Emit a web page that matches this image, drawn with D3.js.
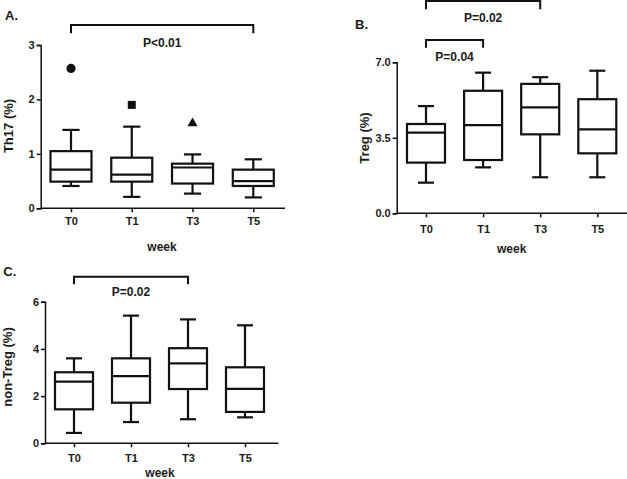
<!DOCTYPE html>
<html>
<head>
<meta charset="utf-8">
<script src="https://cdn.jsdelivr.net/npm/d3@7"></script>
<style>
  html, body { margin: 0; padding: 0; background: #fff; }
  svg { display: block; }
  text { font-family: "Liberation Sans", Arial, Helvetica, sans-serif; font-weight: bold; fill: #1a1a1a; }
</style>
</head>
<body>
<svg id="chart" width="627" height="479"></svg>
<script>
// ---------- data ----------
const categories = ["T0", "T1", "T3", "T5"];
const xTitle = "week";

// Panel A: Th17 (%)
const th17Low    = [0.41, 0.21, 0.27, 0.20];
const th17Q1     = [0.49, 0.49, 0.455, 0.41];
const th17Median = [0.71, 0.62, 0.75, 0.50];
const th17Q3     = [1.05, 0.93, 0.82, 0.71];
const th17High   = [1.44, 1.50, 0.99, 0.90];
const th17Outliers = [2.57, 1.90, 1.58, null];
const th17OutlierShapes = ["circle", "square", "triangle", null];
const th17Ticks = [0, 1, 2, 3];

// Panel B: Treg (%)
const tregLow    = [1.42, 2.13, 1.67, 1.67];
const tregQ1     = [2.35, 2.47, 3.66, 2.78];
const tregMedian = [3.74, 4.09, 4.91, 3.89];
const tregQ3     = [4.14, 5.68, 6.00, 5.29];
const tregHigh   = [4.97, 6.52, 6.31, 6.61];
const tregTicks = [0, 3.5, 7];

// Panel C: non-Treg (%)
const nonTregLow    = [0.44, 0.90, 1.02, 1.10];
const nonTregQ1     = [1.44, 1.72, 2.30, 1.33];
const nonTregMedian = [2.61, 2.85, 3.39, 2.31];
const nonTregQ3     = [3.01, 3.60, 4.03, 3.22];
const nonTregHigh   = [3.60, 5.41, 5.25, 5.00];
const nonTregTicks = [0, 2, 4, 6];

// Significance brackets: [from, to, label]
const th17Sig = [["T0", "T5", "P<0.01"]];
const tregSig = [["T0", "T3", "P=0.02"], ["T0", "T1", "P=0.04"]];
const nonTregSig = [["T0", "T3", "P=0.02"]];

// ---------- drawing ----------
const svg = d3.select("#chart");

function drawPanel(cfg) {
  const g = svg.append("g");
  const y = d3.scaleLinear().domain(cfg.yDomain).range([cfg.y0, cfg.yTop]);
  const x = d3.scalePoint().domain(categories).range(cfg.xRange);

  // y axis
  const yAxis = d3.axisLeft(y).tickValues(cfg.ticks).tickFormat(cfg.fmt).tickSize(4).tickPadding(2);
  const ya = g.append("g").attr("transform", `translate(${cfg.axisX},0)`).call(yAxis);
  ya.select(".domain").attr("stroke", "#111").attr("stroke-width", 1.5);
  ya.selectAll(".tick line").attr("stroke", "#111").attr("stroke-width", 1.5);
  ya.selectAll(".tick text").style("font-size", "11px").style("font-family", "Liberation Sans, Arial, sans-serif").style("font-weight", "bold").attr("fill", "#1a1a1a");

  // x axis
  g.append("line")
    .attr("x1", cfg.axisX).attr("x2", cfg.axisEnd)
    .attr("y1", cfg.y0).attr("y2", cfg.y0)
    .attr("stroke", "#111").attr("stroke-width", 1.5);
  const xa = g.append("g").attr("transform", `translate(0,${cfg.y0})`)
    .call(d3.axisBottom(x).tickSize(4).tickPadding(4));
  xa.select(".domain").remove();
  xa.selectAll(".tick line").attr("stroke", "#111").attr("stroke-width", 1.5);
  xa.selectAll(".tick text").style("font-size", "11px").style("font-family", "Liberation Sans, Arial, sans-serif").style("font-weight", "bold").attr("fill", "#1a1a1a").attr("dy", cfg.xLabelDy);

  // boxes
  const rows = categories.map((c, i) => ({
    c, low: cfg.low[i], q1: cfg.q1[i], med: cfg.med[i], q3: cfg.q3[i], high: cfg.high[i]
  }));
  const bw = cfg.boxW, cw = cfg.boxW * 0.42;
  const bg = g.selectAll("g.box").data(rows).enter().append("g")
    .attr("stroke", "#111").attr("stroke-width", 2.2).attr("fill", "none");
  bg.append("line").attr("x1", d => x(d.c)).attr("x2", d => x(d.c))
    .attr("y1", d => y(d.low)).attr("y2", d => y(d.q1));
  bg.append("line").attr("x1", d => x(d.c)).attr("x2", d => x(d.c))
    .attr("y1", d => y(d.q3)).attr("y2", d => y(d.high));
  bg.append("line").attr("x1", d => x(d.c) - cw / 2).attr("x2", d => x(d.c) + cw / 2)
    .attr("y1", d => y(d.low)).attr("y2", d => y(d.low));
  bg.append("line").attr("x1", d => x(d.c) - cw / 2).attr("x2", d => x(d.c) + cw / 2)
    .attr("y1", d => y(d.high)).attr("y2", d => y(d.high));
  bg.append("rect").attr("x", d => x(d.c) - bw / 2).attr("width", bw)
    .attr("y", d => y(d.q3)).attr("height", d => y(d.q1) - y(d.q3))
    .attr("fill", "#fff");
  bg.append("line").attr("x1", d => x(d.c) - bw / 2).attr("x2", d => x(d.c) + bw / 2)
    .attr("y1", d => y(d.med)).attr("y2", d => y(d.med));

  // outliers
  if (cfg.outliers) {
    const sym = { circle: d3.symbolCircle, square: d3.symbolSquare, triangle: d3.symbolTriangle };
    const sizes = { circle: 66, square: 64, triangle: 44 };
    categories.forEach((c, i) => {
      const v = cfg.outliers[i];
      if (v == null) return;
      const shape = cfg.shapes[i];
      g.append("path")
        .attr("d", d3.symbol().type(sym[shape]).size(sizes[shape])())
        .attr("transform", `translate(${x(c)},${y(v) + (shape === "triangle" ? 1 : 0)})`)
        .attr("fill", "#111");
    });
  }

  // significance brackets
  cfg.sig.forEach((s, k) => {
    const b = cfg.brackets[k];
    const x1 = x(s[0]), x2 = x(s[1]);
    g.append("path")
      .attr("d", `M${x1},${b.leg}V${b.top}H${x2}V${b.leg}`)
      .attr("fill", "none").attr("stroke", "#111").attr("stroke-width", 2);
    g.append("text").attr("x", (x1 + x2) / 2).attr("y", b.text)
      .attr("text-anchor", "middle").style("font-size", "12px").text(s[2]);
  });

  // panel letter
  g.append("text").attr("x", cfg.letterX).attr("y", cfg.letterY)
    .style("font-size", "13px").text(cfg.letter);

  // y title
  g.append("text")
    .attr("transform", `translate(${cfg.yTitleX},${cfg.yTitleY}) rotate(-90)`)
    .attr("text-anchor", "middle").style("font-size", "13px").text(cfg.yTitle);

  // x title
  g.append("text").attr("x", cfg.xTitleX).attr("y", cfg.xTitleY)
    .attr("text-anchor", "middle").style("font-size", "12px").text(xTitle);
}

drawPanel({
  letter: "A.", letterX: 5, letterY: 19.5,
  yTitle: "Th17 (%)", yTitleX: 13, yTitleY: 126,
  xTitleX: 162, xTitleY: 251,
  yDomain: [0, 3], y0: 208.3, yTop: 45, ticks: th17Ticks, fmt: d3.format("d"),
  axisX: 40.7, axisEnd: 285, xRange: [71, 253.3], boxW: 41, xLabelDy: "0.75em",
  low: th17Low, q1: th17Q1, med: th17Median, q3: th17Q3, high: th17High,
  outliers: th17Outliers, shapes: th17OutlierShapes,
  sig: th17Sig, brackets: [{ top: 25, leg: 33.3, text: 46.8 }]
});

drawPanel({
  letter: "B.", letterX: 355, letterY: 29.3,
  yTitle: "Treg (%)", yTitleX: 369, yTitleY: 138,
  xTitleX: 511.7, xTitleY: 252.5,
  yDomain: [0, 7], y0: 213.3, yTop: 62.3, ticks: tregTicks, fmt: d3.format(".1f"),
  axisX: 396.7, axisEnd: 627, xRange: [426, 597.3], boxW: 38, xLabelDy: "1.05em",
  low: tregLow, q1: tregQ1, med: tregMedian, q3: tregQ3, high: tregHigh,
  sig: tregSig, brackets: [{ top: 1, leg: 9.3, text: 21.5 }, { top: 40, leg: 47.7, text: 61 }]
});

drawPanel({
  letter: "C.", letterX: 3.3, letterY: 276,
  yTitle: "non-Treg (%)", yTitleX: 12, yTitleY: 367,
  xTitleX: 160, xTitleY: 477,
  yDomain: [0, 6], y0: 443.3, yTop: 301.7, ticks: nonTregTicks, fmt: d3.format("d"),
  axisX: 45, axisEnd: 278.3, xRange: [74, 245], boxW: 38, xLabelDy: "0.95em",
  low: nonTregLow, q1: nonTregQ1, med: nonTregMedian, q3: nonTregQ3, high: nonTregHigh,
  sig: nonTregSig, brackets: [{ top: 276.7, leg: 284.3, text: 296 }]
});
</script>
</body>
</html>
